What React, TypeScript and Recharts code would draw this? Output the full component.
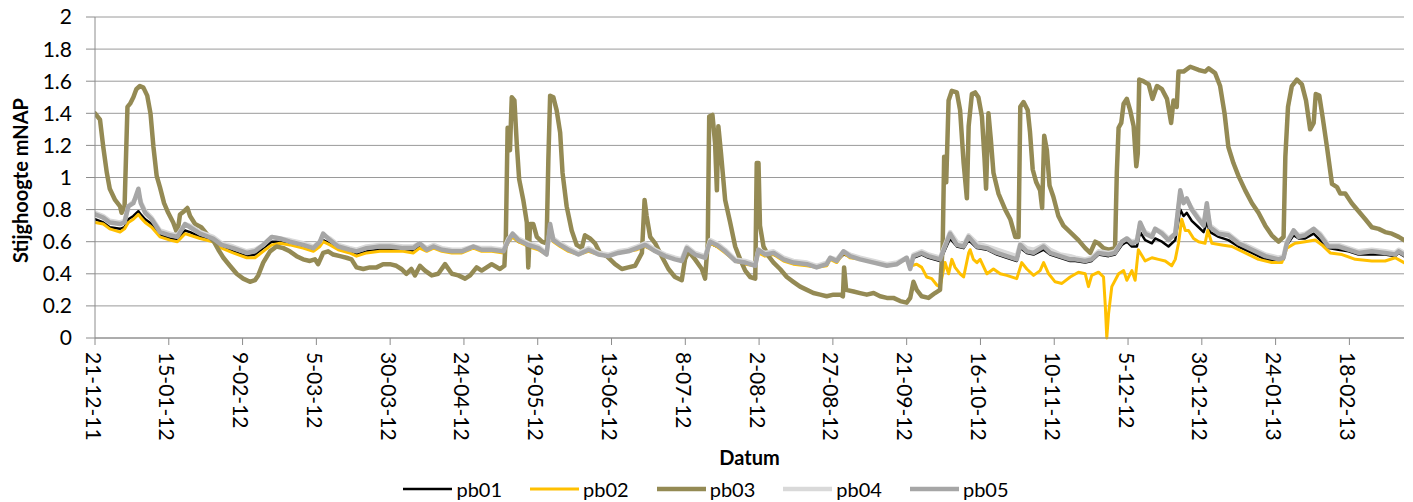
import React from 'react';
import { LineChart, Line, XAxis, YAxis, CartesianGrid, Legend } from 'recharts';

const FONT = "Lato, 'Liberation Sans', sans-serif";

// x ticks: days since 21-12-2011
const tickDays = [0, 25, 50, 75, 100, 125, 150, 175, 200, 225, 250, 275, 300, 325, 350, 375, 400, 425];
const tickLabels = [
  '21-12-11', '15-01-12', '9-02-12', '5-03-12', '30-03-12', '24-04-12', '19-05-12', '13-06-12', '8-07-12',
  '2-08-12', '27-08-12', '21-09-12', '16-10-12', '10-11-12', '5-12-12', '30-12-12', '24-01-13', '18-02-13',
];
const yTicks = [0, 0.2, 0.4, 0.6, 0.8, 1, 1.2, 1.4, 1.6, 1.8, 2];

// common sample days for pb01, pb04, pb05
const baseDays = [
  0, 2.8, 5, 8.5, 10, 11.3, 13, 14.7, 15.5, 17,
  19.2, 22, 25.4, 27.9, 30.5, 32.2, 35.6, 40, 42.9, 46.8,
  51.4, 54.2, 57, 59.9, 62.7, 66, 70.5, 74, 76.2, 77.3,
  79.6, 82.4, 86.3, 88.6, 92, 96.5, 99.9, 104.4, 107.8, 110,
  112.4, 114.7, 117.5, 120.9, 124.3, 128.2, 131, 134.4, 138.4, 140.1,
  141.5, 143.4, 146.8, 150.2, 153, 154.2, 155.3, 157.6, 160.4, 163.8,
  167.2, 170.6, 173.9, 177.3, 180.7, 183.6, 186.4, 189.8, 193.2, 196.5,
  198.8, 200.5, 203.3, 206.7, 208.4, 210.7, 213.5, 216.9, 220.3, 223.7,
  224.8, 227, 229.9, 233.3, 236.6, 241.2, 244.5, 247.9, 249.1, 251.3,
  253.6, 255.8, 259.2, 263.8, 268.3, 271.7, 275, 276.2, 277.3, 280.1,
  282.4, 286.3, 288, 289.7, 292, 294.3, 296, 298.8, 302.2, 305.6,
  308.9, 312.3, 313.5, 315.7, 318, 321.4, 323.6, 327, 330.4, 332.1,
  335.5, 337.7, 340, 343.4, 345.6, 347.9, 349.6, 351.3, 353, 354.1,
  355.8, 358.1, 359.2, 361.5, 363.7, 366, 367.7, 368.8, 369.9, 371.6,
  373.9, 375.6, 376.7, 377.8, 380.7, 384, 387.4, 392, 396.5, 401,
  402.7, 403.8, 406.1, 407.8, 410, 412.9, 415.1, 417.9, 421.3, 424.7,
  428.1, 432.6, 437.1, 440.5, 441.7, 443.5,
];

const pb05Values = [
  0.77, 0.75, 0.72, 0.71, 0.72, 0.82, 0.84, 0.93, 0.84, 0.78,
  0.74, 0.66, 0.64, 0.63, 0.71, 0.69, 0.65, 0.62, 0.58, 0.56,
  0.53, 0.54, 0.58, 0.63, 0.62, 0.60, 0.58, 0.56, 0.60, 0.65,
  0.61, 0.57, 0.55, 0.54, 0.56, 0.57, 0.57, 0.56, 0.56, 0.59,
  0.55, 0.57, 0.55, 0.54, 0.54, 0.57, 0.55, 0.55, 0.54, 0.61,
  0.65, 0.61, 0.58, 0.56, 0.52, 0.71, 0.61, 0.58, 0.55, 0.52,
  0.55, 0.52, 0.51, 0.53, 0.54, 0.56, 0.58, 0.54, 0.51, 0.49,
  0.48, 0.56, 0.52, 0.50, 0.60, 0.58, 0.54, 0.48, 0.47, 0.45,
  0.55, 0.52, 0.53, 0.49, 0.47, 0.46, 0.44, 0.46, 0.50, 0.48,
  0.54, 0.51, 0.49, 0.47, 0.45, 0.46, 0.50, 0.43, 0.51, 0.53,
  0.51, 0.49, 0.57, 0.65, 0.58, 0.57, 0.63, 0.57, 0.56, 0.53,
  0.51, 0.49, 0.58, 0.54, 0.53, 0.57, 0.53, 0.51, 0.49, 0.49,
  0.48, 0.49, 0.53, 0.52, 0.53, 0.60, 0.62, 0.59, 0.60, 0.72,
  0.65, 0.63, 0.68, 0.65, 0.61, 0.65, 0.92, 0.84, 0.87, 0.80,
  0.74, 0.70, 0.84, 0.69, 0.65, 0.64, 0.59, 0.55, 0.51, 0.49,
  0.50, 0.59, 0.67, 0.63, 0.64, 0.68, 0.64, 0.57, 0.57, 0.55,
  0.53, 0.54, 0.53, 0.52, 0.54, 0.52,
];

const pb04Values = [
  0.78, 0.76, 0.73, 0.72, 0.73, 0.82, 0.85, 0.90, 0.85, 0.79,
  0.75, 0.67, 0.65, 0.64, 0.71, 0.70, 0.66, 0.63, 0.59, 0.57,
  0.54, 0.55, 0.58, 0.63, 0.62, 0.61, 0.59, 0.57, 0.60, 0.64,
  0.62, 0.58, 0.56, 0.55, 0.57, 0.58, 0.58, 0.57, 0.57, 0.59,
  0.56, 0.58, 0.56, 0.55, 0.55, 0.57, 0.56, 0.56, 0.55, 0.62,
  0.65, 0.62, 0.59, 0.57, 0.53, 0.68, 0.62, 0.59, 0.56, 0.53,
  0.56, 0.53, 0.52, 0.54, 0.55, 0.57, 0.59, 0.55, 0.52, 0.50,
  0.49, 0.57, 0.53, 0.51, 0.61, 0.59, 0.55, 0.49, 0.48, 0.46,
  0.55, 0.53, 0.54, 0.50, 0.48, 0.47, 0.45, 0.47, 0.50, 0.49,
  0.54, 0.52, 0.50, 0.48, 0.46, 0.47, 0.50, 0.45, 0.52, 0.54,
  0.52, 0.50, 0.58, 0.66, 0.60, 0.58, 0.64, 0.59, 0.57, 0.55,
  0.53, 0.51, 0.59, 0.56, 0.55, 0.58, 0.55, 0.52, 0.51, 0.50,
  0.49, 0.50, 0.54, 0.53, 0.54, 0.60, 0.62, 0.60, 0.61, 0.71,
  0.66, 0.64, 0.68, 0.66, 0.62, 0.65, 0.90, 0.85, 0.86, 0.81,
  0.75, 0.71, 0.80, 0.70, 0.66, 0.65, 0.60, 0.56, 0.52, 0.50,
  0.51, 0.60, 0.67, 0.64, 0.65, 0.68, 0.65, 0.58, 0.58, 0.56,
  0.54, 0.55, 0.54, 0.53, 0.55, 0.53,
];

const pb01Values = [
  0.74, 0.72, 0.69, 0.68, 0.69, 0.74, 0.76, 0.79, 0.77, 0.74,
  0.71, 0.64, 0.62, 0.61, 0.67, 0.66, 0.63, 0.61, 0.57, 0.54,
  0.51, 0.52, 0.56, 0.60, 0.60, 0.59, 0.57, 0.55, 0.58, 0.61,
  0.59, 0.56, 0.54, 0.52, 0.54, 0.55, 0.55, 0.55, 0.54, 0.57,
  0.55, 0.56, 0.55, 0.54, 0.54, 0.56, 0.55, 0.55, 0.54, 0.60,
  0.63, 0.60, 0.58, 0.56, 0.53, 0.66, 0.61, 0.58, 0.55, 0.53,
  0.55, 0.53, 0.52, 0.54, 0.55, 0.56, 0.57, 0.55, 0.52, 0.50,
  0.49, 0.56, 0.53, 0.50, 0.59, 0.57, 0.54, 0.49, 0.47, 0.46,
  0.53, 0.52, 0.52, 0.49, 0.47, 0.46, 0.45, 0.46, 0.49, 0.48,
  0.52, 0.51, 0.49, 0.48, 0.46, 0.47, 0.49, 0.44, 0.50, 0.52,
  0.50, 0.48, 0.55, 0.62, 0.57, 0.56, 0.61, 0.56, 0.55, 0.52,
  0.50, 0.48, 0.56, 0.53, 0.52, 0.55, 0.52, 0.50, 0.48, 0.48,
  0.47, 0.48, 0.52, 0.51, 0.52, 0.58, 0.60, 0.57, 0.57, 0.66,
  0.61, 0.59, 0.62, 0.60, 0.57, 0.61, 0.80, 0.76, 0.78, 0.73,
  0.69, 0.66, 0.72, 0.66, 0.63, 0.61, 0.57, 0.53, 0.49, 0.48,
  0.49, 0.58, 0.64, 0.62, 0.62, 0.65, 0.61, 0.56, 0.55, 0.54,
  0.52, 0.52, 0.52, 0.51, 0.53, 0.51,
];

const pb02Days = [
  0, 2.8, 5, 8.5, 10, 11.3, 13, 14.7, 15.5, 17,
  19.2, 22, 25.4, 27.9, 30.5, 32.2, 35.6, 40, 42.9, 46.8,
  51.4, 54.2, 57, 59.9, 62.7, 66, 70.5, 74, 76.2, 77.3,
  79.6, 82.4, 86.3, 88.6, 92, 96.5, 99.9, 104.4, 107.8, 110,
  112.4, 114.7, 117.5, 120.9, 124.3, 128.2, 131, 134.4, 138.4, 140.1,
  141.5, 143.4, 146.8, 150.2, 153, 154.2, 155.3, 157.6, 160.4, 163.8,
  167.2, 170.6, 173.9, 177.3, 180.7, 183.6, 186.4, 189.8, 193.2, 196.5,
  198.8, 200.5, 203.3, 206.7, 208.4, 210.7, 213.5, 216.9, 220.3, 223.7,
  224.8, 227, 229.9, 233.3, 236.6, 241.2, 244.5, 247.9, 249.1, 251.3,
  253.6, 255.8, 259.2, 263.8, 268.3, 271.7, 273.6, 275,
  276.7, 278.4, 280.1, 281.8, 283.5, 285.2, 286.3, 288, 289.2, 290.3,
  291.4, 293.1, 294.3, 296, 296.5, 297.6, 298.8, 299.9, 302.2, 304.4,
  306.7, 308.9, 312.3, 314, 315.7, 318, 320.2, 321.4, 323.1, 325.3,
  327.6, 330.4, 333.2, 335.5, 336.6, 337.7, 340, 341.7, 342.3, 342.8,
  343.4, 344.5, 346.8, 348.5, 349.6, 351.3, 352.4, 353.5, 355.8, 358.1,
  360.3, 362.6, 364.8, 366, 367.1, 368.2, 369.4, 370.5, 372.2, 373.9,
  376.1, 377, 378.4, 381.8, 385.2, 389.7, 394.2, 398.7, 402.1, 403.8,
  406.6, 410, 413.4, 415.7, 418.5, 422.5, 427, 432.6, 437.1, 440.5,
  443.5,
];
const pb02Values = [
  0.72, 0.71, 0.68, 0.66, 0.68, 0.72, 0.74, 0.77, 0.75, 0.72,
  0.69, 0.63, 0.61, 0.60, 0.65, 0.64, 0.62, 0.60, 0.56, 0.53,
  0.50, 0.50, 0.54, 0.58, 0.59, 0.58, 0.56, 0.54, 0.57, 0.60,
  0.58, 0.55, 0.53, 0.51, 0.53, 0.54, 0.54, 0.54, 0.53, 0.56,
  0.54, 0.56, 0.54, 0.53, 0.53, 0.56, 0.54, 0.54, 0.53, 0.60,
  0.63, 0.60, 0.57, 0.55, 0.52, 0.66, 0.60, 0.57, 0.54, 0.52,
  0.54, 0.52, 0.51, 0.53, 0.54, 0.55, 0.57, 0.54, 0.51, 0.49,
  0.48, 0.55, 0.52, 0.50, 0.59, 0.57, 0.53, 0.48, 0.46, 0.45,
  0.53, 0.51, 0.52, 0.48, 0.46, 0.45, 0.44, 0.45, 0.49, 0.47,
  0.53, 0.50, 0.49, 0.47, 0.45, 0.46, 0.48, null,
  0.45, 0.46, 0.44, 0.38, 0.37, 0.33, 0.32, 0.47, 0.40, 0.49,
  0.44, 0.40, 0.38, 0.53, 0.55, 0.49, 0.47, 0.49, 0.40, 0.43,
  0.40, 0.39, 0.37, 0.47, 0.43, 0.39, 0.42, 0.47, 0.40, 0.35,
  0.34, 0.38, 0.41, 0.40, 0.32, 0.39, 0.41, 0.38, 0.20, 0,
  0.15, 0.32, 0.40, 0.42, 0.36, 0.42, 0.36, 0.55, 0.48, 0.50,
  0.49, 0.48, 0.45, 0.49, 0.59, 0.74, 0.67, 0.67, 0.62, 0.60,
  0.59, 0.67, 0.59, 0.58, 0.57, 0.53, 0.49, 0.47, 0.47, 0.56,
  0.59, 0.60, 0.61, 0.58, 0.53, 0.52, 0.49, 0.48, 0.48, 0.50,
  0.47,
];

const pb03Days = [
  0, 1.7, 2.8, 4, 5, 6.8, 8.5, 9, 10, 11,
  11.9, 13, 14, 15.2, 16.4, 17.7, 18.8, 19.8, 20.9, 22,
  23.4, 24.8, 26.5, 27.9, 28.8, 30.2, 31.3, 32.2, 33.9, 36,
  37.8, 40.3, 41.8, 43.5, 45.7, 48, 50.2, 52.5, 54.2, 55.3,
  57, 59.3, 61.5, 63.8, 66, 68.3, 70.5, 72.8, 74.5, 75.6,
  77.3, 79, 80.7, 83, 85.2, 86.9, 88.6, 90.9, 93.1, 95.4,
  97.6, 99.9, 102.1, 103.8, 105.5, 107.2, 108.4, 110.1, 111.8, 114.1,
  116.3, 118.6, 120.9, 123.1, 125.4, 127.1, 129.3, 131, 134.4, 137.2,
  138.7, 139.2, 139.8, 140.6, 141.2, 142.1, 142.9, 143.7, 145.1, 146.3,
  146.8, 147.4, 148.5, 149.7, 151.4, 153, 153.6, 154.2, 155.3, 156.4,
  157.6, 158.4, 159.8, 161.5, 163.2, 164.9, 166, 167.7, 169.4, 171.1,
  173.4, 176.2, 178.5, 180.7, 183, 185.3, 186.2, 186.9, 188.1, 189.8,
  192, 194.3, 196.5, 198.8, 199.9, 201.1, 203.3, 205.6, 206.7, 207.6,
  208.1, 209.2, 210.1, 210.7, 211.2, 212.1, 213.5, 215.2, 216.9, 218.6,
  220.3, 222, 223.7, 224.2, 224.8, 225.3, 226.5, 228.2, 229.9, 232.1,
  234.4, 236.6, 238.9, 241.2, 243.4, 245.7, 247.9, 250.2, 252.5, 253.4,
  253.8, 254.5, 257, 259.2, 261.5, 263.8, 266, 268.3, 270.5, 272.8,
  275, 276.2, 277.3, 278.4, 280.1, 282.4, 284.6, 286.3, 287.2, 287.7,
  288.4, 289.2, 290.3, 292, 293.1, 294.3, 295.4, 296, 297.1, 298.2,
  299.3, 300.5, 301.4, 301.9, 302.7, 303.5, 304.4, 306.1, 308.4, 310.1,
  311.8, 312.9, 313.5, 314.6, 316, 316.8, 317.7, 318.9, 320.2, 320.9,
  321.6, 322.5, 323.4, 324.7, 326.4, 328.1, 330.4, 333.2, 335.5, 337.2,
  338.9, 340, 341.7, 343.4, 345.6, 346.2, 346.8, 347.7, 348.5, 349.6,
  350.7, 351.9, 352.8, 353.3, 353.8, 355.2, 357, 358.3, 359.8, 361.5,
  363.2, 364.6, 365.4, 366.5, 367.1, 368.8, 371.1, 373.9, 376.1, 377.3,
  379.5, 381.2, 382.7, 384, 385.7, 387.4, 389.7, 392, 394.2, 396.5,
  398.7, 401, 402.7, 403.3, 404.2, 405.5, 407.2, 408.9, 410.3, 411.7,
  412.9, 413.6, 414.8, 415.9, 417.4, 419.1, 420.8, 421.9, 423.6, 425.8,
  428.1, 430.4, 432.6, 434.9, 437.1, 439.4, 441.7, 443.5,
];
const pb03Values = [
  1.40, 1.36, 1.19, 1.03, 0.93, 0.86, 0.82, 0.78, 0.81, 1.44,
  1.46, 1.50, 1.55, 1.57, 1.56, 1.51, 1.40, 1.19, 1.01, 0.94,
  0.84, 0.78, 0.72, 0.65, 0.77, 0.79, 0.81, 0.76, 0.71, 0.69,
  0.65, 0.60, 0.55, 0.50, 0.45, 0.40, 0.37, 0.35, 0.36, 0.39,
  0.47, 0.54, 0.57, 0.56, 0.54, 0.51, 0.49, 0.48, 0.49, 0.46,
  0.53, 0.54, 0.52, 0.51, 0.50, 0.49, 0.44, 0.43, 0.44, 0.44,
  0.46, 0.46, 0.45, 0.43, 0.40, 0.43, 0.39, 0.45, 0.42, 0.39,
  0.40, 0.46, 0.40, 0.39, 0.37, 0.39, 0.44, 0.42, 0.46, 0.43,
  0.45, 0.63, 1.31, 1.17, 1.50, 1.48, 1.21, 0.99, 0.86, 0.72,
  0.44, 0.71, 0.71, 0.63, 0.60, 0.59, 1.11, 1.51, 1.50, 1.42,
  1.28, 1.03, 0.82, 0.67, 0.58, 0.56, 0.64, 0.62, 0.59, 0.53,
  0.51, 0.46, 0.43, 0.44, 0.45, 0.53, 0.86, 0.76, 0.63, 0.59,
  0.51, 0.43, 0.38, 0.36, 0.49, 0.54, 0.49, 0.43, 0.37, 0.59,
  1.38, 1.39, 1.21, 0.92, 1.32, 1.15, 0.86, 0.72, 0.57, 0.49,
  0.42, 0.38, 0.37, 1.09, 1.09, 0.70, 0.57, 0.51, 0.47, 0.43,
  0.38, 0.35, 0.32, 0.30, 0.28, 0.27, 0.26, 0.27, 0.27, 0.26,
  0.44, 0.30, 0.29, 0.28, 0.27, 0.28, 0.26, 0.25, 0.25, 0.23,
  0.22, 0.25, 0.35, 0.30, 0.26, 0.25, 0.28, 0.30, 0.57, 1.13,
  0.97, 1.48, 1.54, 1.53, 1.42, 1.09, 0.87, 1.32, 1.52, 1.53,
  1.50, 1.38, 1.11, 0.93, 1.40, 1.24, 1.03, 0.90, 0.80, 0.74,
  0.63, 0.63, 1.44, 1.47, 1.42, 1.28, 1.05, 0.97, 0.92, 0.81,
  1.26, 1.17, 0.95, 0.88, 0.76, 0.70, 0.66, 0.61, 0.56, 0.53,
  0.60, 0.59, 0.56, 0.55, 0.56, 1.03, 1.31, 1.34, 1.46, 1.49,
  1.42, 1.32, 1.07, 1.15, 1.61, 1.60, 1.58, 1.49, 1.57, 1.55,
  1.49, 1.34, 1.48, 1.44, 1.66, 1.66, 1.69, 1.67, 1.66, 1.68,
  1.65, 1.57, 1.40, 1.19, 1.09, 1.01, 0.92, 0.84, 0.78, 0.70,
  0.64, 0.60, 0.63, 1.13, 1.44, 1.57, 1.61, 1.58, 1.48, 1.30,
  1.34, 1.52, 1.51, 1.38, 1.19, 0.96, 0.94, 0.90, 0.90, 0.84,
  0.79, 0.74, 0.69, 0.68, 0.66, 0.65, 0.63, 0.61,
];

const toData = (days: number[], values: (number | null)[]) =>
  days.map((day, i) => ({ day, value: values[i] }));

const series = [
  { key: 'pb01', color: '#000000', width: 2.5, data: toData(baseDays, pb01Values) },
  { key: 'pb02', color: '#FFC000', width: 3, data: toData(pb02Days, pb02Values) },
  { key: 'pb03', color: '#948A54', width: 4.5, data: toData(pb03Days, pb03Values) },
  { key: 'pb04', color: '#D9D9D9', width: 4.5, data: toData(baseDays, pb04Values) },
  { key: 'pb05', color: '#A6A6A6', width: 4.5, data: toData(baseDays, pb05Values) },
];

const XTick = (props: any) => {
  const { x, y, payload } = props;
  const idx = tickDays.indexOf(payload.value);
  return (
    <text
      x={0}
      y={0}
      transform={`translate(${x - 1},${y}) rotate(90)`}
      textAnchor="start"
      dominantBaseline="central"
      fontSize={21}
      fontFamily={FONT}
      fill="#000"
    >
      {tickLabels[idx]}
    </text>
  );
};

const YTitle = (props: any) => {
  const vb = props.viewBox || {};
  const cy = (vb.y ?? 17) + (vb.height ?? 321) / 2 + 3;
  return (
    <text
      x={28}
      y={cy}
      transform={`rotate(-90 28 ${cy})`}
      textAnchor="middle"
      fontWeight="bold"
      fontSize={20}
      fontFamily={FONT}
      fill="#000"
    >
      Stijghoogte mNAP
    </text>
  );
};

const XTitle = (props: any) => {
  const vb = props.viewBox || {};
  const cx = (vb.x ?? 95) + (vb.width ?? 1309) / 2;
  const y = (vb.y ?? 338) + 127;
  return (
    <text x={cx} y={y} textAnchor="middle" fontWeight="bold" fontSize={20} fontFamily={FONT} fill="#000">
      Datum
    </text>
  );
};

const LegendContent = () => (
  <div
    style={{
      display: 'flex',
      justifyContent: 'center',
      alignItems: 'center',
      height: 34,
      boxSizing: 'border-box',
      paddingLeft: 8,
      paddingTop: 8,
      fontFamily: FONT,
      fontSize: 20,
      color: '#000',
    }}
  >
    {series.map((s, i) => (
      <div key={s.key} style={{ display: 'flex', alignItems: 'center', marginLeft: i ? 28 : 0, lineHeight: '26px' }}>
        <svg width={49} height={10} style={{ display: 'block' }}>
          <line x1={0} y1={5} x2={49} y2={5} stroke={s.color} strokeWidth={s.width} />
        </svg>
        <span style={{ marginLeft: 4 }}>{s.key}</span>
      </div>
    ))}
  </div>
);

export default function App() {
  return (
    <div style={{ position: 'absolute', left: 0, top: 0, background: '#fff' }}>
      <LineChart width={1413} height={502} margin={{ top: 17, right: 9, left: 0, bottom: 0 }}>
        <CartesianGrid horizontal vertical={false} stroke="#9a9a9a" strokeWidth={1} />
        <XAxis
          type="number"
          dataKey="day"
          domain={[0, 443.5]}
          allowDataOverflow
          ticks={tickDays}
          interval={0}
          tick={<XTick />}
          tickSize={7}
          tickMargin={7}
          height={130}
          stroke="#8c8c8c"
          label={<XTitle />}
        />
        <YAxis
          type="number"
          domain={[0, 2]}
          ticks={yTicks}
          interval={0}
          width={95}
          tickSize={9}
          tickMargin={14}
          stroke="#8c8c8c"
          tick={{ fontSize: 21, fill: '#000', fontFamily: FONT }}
          tickFormatter={(v: number) => String(Number(v.toFixed(1)))}
          label={<YTitle />}
        />
        <Legend verticalAlign="bottom" align="center" content={<LegendContent />} />
        {series.map((s) => (
          <Line
            key={s.key}
            data={s.data}
            dataKey="value"
            name={s.key}
            type="linear"
            stroke={s.color}
            strokeWidth={s.width}
            strokeLinejoin="round"
            strokeLinecap="round"
            dot={false}
            activeDot={false}
            isAnimationActive={false}
          />
        ))}
      </LineChart>
    </div>
  );
}
